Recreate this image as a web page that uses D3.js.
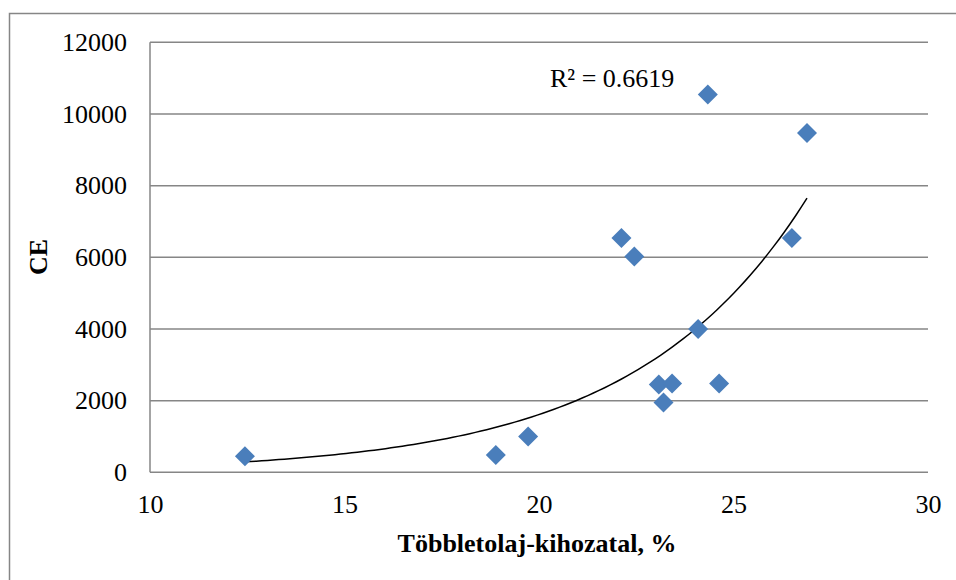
<!DOCTYPE html>
<html>
<head>
<meta charset="utf-8">
<script src="https://cdn.jsdelivr.net/npm/d3@7"></script>
<style>
  html, body { margin: 0; padding: 0; background: #fff; }
  svg { display: block; }
  text { font-family: "Liberation Serif", "Times New Roman", serif; fill: #000; }
</style>
</head>
<body>
<div id="chart"></div>
<script>
// Többletolaj-kihozatal (%) versus CE, one point per sample
const yieldPct = [12.44, 18.89, 19.72, 23.08, 23.42, 23.20, 24.63, 24.09, 22.12, 22.45, 24.34, 26.89, 26.50];
const ceValues = [450, 480, 1000, 2450, 2480, 1950, 2480, 4000, 6540, 6020, 10540, 9470, 6540];

const xTicks = [10, 15, 20, 25, 30];
const yTicks = [0, 2000, 4000, 6000, 8000, 10000, 12000];
const rSquaredLabel = "R² = 0.6619";

const width = 956, height = 580;
const plot = { left: 150, right: 928, top: 42.3, bottom: 472.3 };

const svg = d3.select("#chart").append("svg")
  .attr("width", width).attr("height", height);

// outer chart frame
svg.append("rect")
  .attr("x", 9.5).attr("y", 13.5)
  .attr("width", 960).attr("height", 600)
  .attr("fill", "none").attr("stroke", "#868686").attr("stroke-width", 1.5);

const x = d3.scaleLinear().domain([10, 30]).range([plot.left, plot.right]);
const y = d3.scaleLinear().domain([0, 12000]).range([plot.bottom, plot.top]);

// horizontal gridlines
svg.append("g")
  .selectAll("line").data(yTicks).join("line")
  .attr("x1", plot.left).attr("x2", plot.right)
  .attr("y1", d => y(d)).attr("y2", d => y(d))
  .attr("stroke", "#868686").attr("stroke-width", 1.5);

// y axis line
svg.append("line")
  .attr("x1", plot.left).attr("x2", plot.left)
  .attr("y1", plot.top).attr("y2", plot.bottom)
  .attr("stroke", "#868686").attr("stroke-width", 1.5);

const fontSize = 26;

// y axis labels
const yAxis = d3.axisLeft(y).tickValues(yTicks).tickSize(0).tickPadding(23).tickFormat(d3.format("d"));
const gy = svg.append("g").attr("transform", `translate(${plot.left},0)`).call(yAxis);
gy.select(".domain").remove();
gy.attr("font-family", null).attr("font-size", null);
gy.selectAll("text").attr("font-size", fontSize).attr("font-family", "Liberation Serif, serif").attr("fill", "#000");

// x axis labels
const xAxis = d3.axisBottom(x).tickValues(xTicks).tickSize(0).tickPadding(22).tickFormat(d3.format("d"));
const gx = svg.append("g").attr("transform", `translate(0,${plot.bottom})`).call(xAxis);
gx.select(".domain").remove();
gx.attr("font-family", null).attr("font-size", null);
gx.selectAll("text").attr("font-size", fontSize).attr("font-family", "Liberation Serif, serif").attr("fill", "#000");

// axis titles
svg.append("text")
  .attr("x", 537).attr("y", 551.5)
  .attr("text-anchor", "middle")
  .attr("font-size", fontSize).attr("font-weight", "bold")
  .text("Többletolaj-kihozatal, %");

svg.append("text")
  .attr("transform", "translate(47,257) rotate(-90)")
  .attr("text-anchor", "middle")
  .attr("font-size", fontSize).attr("font-weight", "bold")
  .text("CE");

// exponential trendline: least squares on ln(CE)
const pts = yieldPct.map((v, i) => ({ x: v, y: ceValues[i] }));
const mx = d3.mean(pts, p => p.x);
const my = d3.mean(pts, p => Math.log(p.y));
const sxy = d3.sum(pts, p => (p.x - mx) * (Math.log(p.y) - my));
const sxx = d3.sum(pts, p => (p.x - mx) ** 2);
const b = sxy / sxx;
const a = Math.exp(my - b * mx);
const [x0, x1] = d3.extent(yieldPct);
const curve = d3.range(0, 101).map(i => {
  const xv = x0 + (x1 - x0) * i / 100;
  return [xv, a * Math.exp(b * xv)];
});
svg.append("path")
  .datum(curve)
  .attr("fill", "none").attr("stroke", "#000").attr("stroke-width", 1.5)
  .attr("d", d3.line().x(d => x(d[0])).y(d => y(d[1])));

// data markers: diamonds, 20px across
svg.append("g")
  .selectAll("path").data(pts).join("path")
  .attr("transform", d => `translate(${x(d.x)},${y(d.y)})`)
  .attr("d", "M0,-10L10,0L0,10L-10,0Z")
  .attr("fill", "#4A7EBB");

// R² label
svg.append("text")
  .attr("x", 550).attr("y", 87)
  .attr("font-size", 26)
  .text(rSquaredLabel);
</script>
</body>
</html>
